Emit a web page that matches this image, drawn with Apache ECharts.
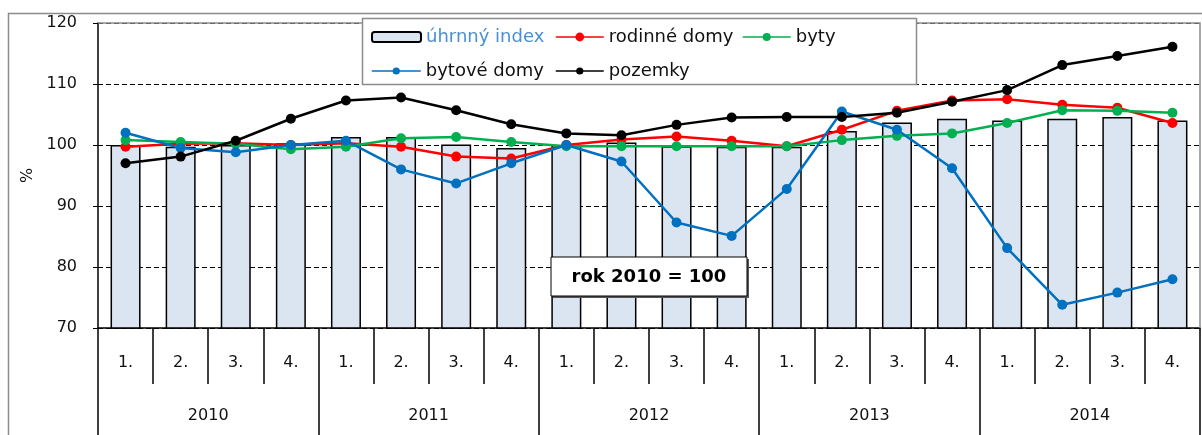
<!DOCTYPE html>
<html>
<head>
<meta charset="utf-8">
<script src="https://cdn.jsdelivr.net/npm/echarts@6/dist/echarts.min.js"></script>
<style>
  html, body { margin: 0; padding: 0; background: #fff; }
  #chart { width: 1202px; height: 435px; }
</style>
</head>
<body>
<div id="chart"></div>
<script>
// ctvrtleti a roky
var quarters = ["1.", "2.", "3.", "4.", "1.", "2.", "3.", "4.", "1.", "2.", "3.", "4.", "1.", "2.", "3.", "4.", "1.", "2.", "3.", "4."]
var years = ["2010", "2011", "2012", "2013", "2014"]

// indexy, rok 2010 = 100
var uhrnnyIndex = [100.0, 99.7, 100.0, 100.3, 101.3, 101.3, 100.1, 99.5, 100.0, 100.4, 99.8, 99.7, 99.7, 102.3, 103.7, 104.3, 104.0, 104.3, 104.6, 104.0]
var rodinneDomy = [99.7, 100.2, 100.3, 100.0, 100.3, 99.7, 98.1, 97.8, 100.0, 100.9, 101.4, 100.7, 99.8, 102.5, 105.6, 107.3, 107.5, 106.6, 106.1, 103.6]
var byty = [100.8, 100.5, 100.2, 99.3, 99.7, 101.1, 101.3, 100.5, 99.8, 99.8, 99.8, 99.8, 99.8, 100.8, 101.5, 101.9, 103.6, 105.7, 105.6, 105.3]
var bytoveDomy = [102.0, 99.5, 98.8, 100.0, 100.7, 96.0, 93.7, 97.0, 100.0, 97.3, 87.3, 85.1, 92.8, 105.5, 102.5, 96.2, 83.1, 73.8, 75.8, 78.0]
var pozemky = [97.0, 98.1, 100.7, 104.3, 107.3, 107.8, 105.7, 103.4, 101.9, 101.6, 103.3, 104.5, 104.6, 104.6, 105.3, 107.1, 109.0, 113.1, 114.6, 116.1]

var yTicks = [70, 80, 90, 100, 110, 120]

var font = "DejaVu Sans"
var chart = echarts.init(document.getElementById("chart"))

function lineSeries(name, data, color, size) {
  return {
    name: name,
    type: "line",
    data: data,
    symbol: "circle",
    symbolSize: size,
    lineStyle: { color: color, width: 2.5 },
    itemStyle: { color: color },
    emphasis: { disabled: true },
    z: 3
  }
}

function oneLegend(name, left, top, w, h, textColor) {
  return {
    data: [name],
    left: left,
    top: top,
    itemWidth: w,
    itemHeight: h,
    padding: 0,
    z: 8,
    selectedMode: false,
    lineStyle: { width: 1.5 },
    textStyle: { fontFamily: font, fontSize: 18, color: textColor }
  }
}

var option = {
  animation: false,
  backgroundColor: "#fff",
  grid: { left: 98, top: 23, right: 2, bottom: 107 },
  legend: [
    oneLegend("úhrnný index", 371, 28, 49, 10, "#4a8fd6"),
    oneLegend("rodinné domy", 555, 28, 48, 11, "#111"),
    oneLegend("byty", 742, 28, 48, 10, "#111"),
    oneLegend("bytové domy", 371, 62, 49, 9, "#111"),
    oneLegend("pozemky", 555, 62, 48, 9, "#111")
  ],
  xAxis: [
    {
      type: "category",
      data: quarters,
      axisLine: { show: true, lineStyle: { color: "#000", width: 1.5 } },
      axisTick: { show: true, interval: 0, length: 56, lineStyle: { color: "#000", width: 1.5 } },
      axisLabel: { margin: 27, fontFamily: font, fontSize: 16, color: "#111", interval: 0 }
    },
    {
      type: "category",
      data: years,
      position: "bottom",
      axisLine: { show: false },
      axisTick: { show: true, interval: 0, length: 110, lineStyle: { color: "#000", width: 1.5 } },
      axisLabel: { margin: 80, fontFamily: font, fontSize: 16, color: "#111" }
    }
  ],
  yAxis: {
    type: "value",
    min: yTicks[0],
    max: yTicks[yTicks.length - 1],
    interval: 10,
    name: "%",
    nameLocation: "middle",
    nameGap: 62,
    nameRotate: 90,
    nameTextStyle: { fontFamily: font, fontSize: 16, color: "#111" },
    axisLine: { show: true, lineStyle: { color: "#000", width: 1.5 } },
    axisTick: { show: true, length: 5, lineStyle: { color: "#000" } },
    axisLabel: { margin: 21, fontFamily: font, fontSize: 16, color: "#111" },
    splitLine: { lineStyle: { color: "#000", type: [5, 3], width: 1 } }
  },
  series: [
    {
      name: "úhrnný index",
      type: "bar",
      data: uhrnnyIndex,
      barWidth: 30,
      itemStyle: { color: "#dbe5f1", borderColor: "#000", borderWidth: 1.5 },
      emphasis: { disabled: true },
      z: 2
    },
    lineSeries("rodinné domy", rodinneDomy, "#ff0000", 10),
    lineSeries("byty", byty, "#00b050", 10),
    lineSeries("bytové domy", bytoveDomy, "#0070c0", 10),
    lineSeries("pozemky", pozemky, "#000000", 10)
  ],
  graphic: [
    // vnejsi ramecek
    { type: "rect", shape: { x: 8.5, y: 13.5, width: 1200, height: 430 },
      style: { fill: null, stroke: "#8c8c8c", lineWidth: 1.5 }, z: 0 },
    // horni a prava hrana plochy grafu
    { type: "polyline", shape: { points: [[98, 23], [1200, 23], [1200, 328]] },
      style: { fill: null, stroke: "#8c8c8c", lineWidth: 1.5 }, z: 4 },
    // ramecek legendy
    { type: "rect", shape: { x: 362.5, y: 18.5, width: 554, height: 66 },
      style: { fill: "#fff", stroke: "#8c8c8c", lineWidth: 1.5 }, z: 5 },
    // stitek
    { type: "rect", shape: { x: 553, y: 259, width: 196, height: 39 }, style: { fill: "#555" }, z: 11 },
    { type: "rect", shape: { x: 551, y: 257, width: 196, height: 39 },
      style: { fill: "#fff", stroke: "#000", lineWidth: 1 }, z: 12 },
    { type: "text", x: 649, y: 277, z: 13,
      style: { text: "rok 2010 = 100", fontFamily: font, fontSize: 18, fontWeight: "bold",
               fill: "#000", align: "center", verticalAlign: "middle" } }
  ]
}

chart.setOption(option)
</script>
</body>
</html>
